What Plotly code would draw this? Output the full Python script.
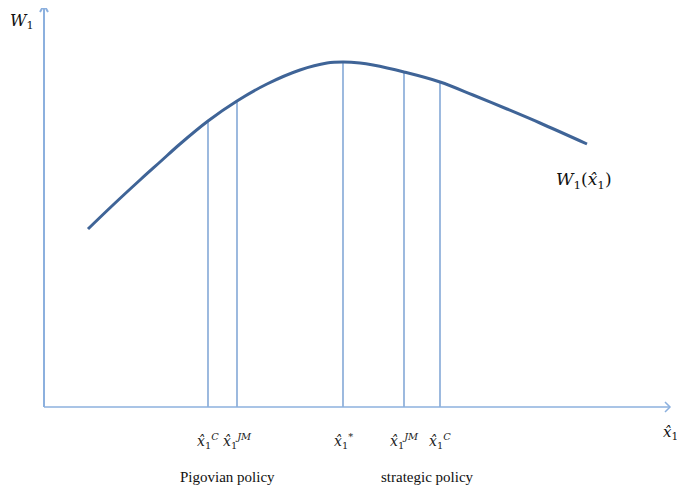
import numpy as np
import plotly.graph_objects as go

# ---- data ----
curve_x = [44, 69, 96, 116, 136, 164, 193, 223, 256, 283, 299, 316, 329, 360, 396, 429, 463, 496, 543]
curve_y = [178, 202, 227, 245, 263, 286, 306, 323, 337, 344, 345, 344, 342, 335, 325, 312, 298, 284, 263]

policy_x = [164, 193, 299, 360, 396]
policy_labels = ["<i>x̂</i><sub>1</sub><sup><i>C</i></sup>",
                 "<i>x̂</i><sub>1</sub><sup><i>JM</i></sup>",
                 "<i>x̂</i><sub>1</sub><sup>*</sup>",
                 "<i>x̂</i><sub>1</sub><sup><i>JM</i></sup>",
                 "<i>x̂</i><sub>1</sub><sup><i>C</i></sup>"]
group_labels = ["Pigovian policy", "strategic policy"]
group_x = [183, 383]

x_axis_end = 626
y_axis_end = 402

AXIS_COL = "#8CB0DE"
VLINE_COL = "#5B8BC9"
CURVE_COL = "#3F6497"
MATH_FONT = "DejaVu Serif"
TEXT_FONT = "Liberation Serif"

fig = go.Figure()

# vertical lines up to the curve
tops = np.interp(policy_x, curve_x, curve_y)
vx, vy = [], []
for x, t in zip(policy_x, tops):
    vx += [x, x, None]
    vy += [0, t, None]
fig.add_trace(go.Scatter(x=vx, y=vy, mode="lines",
                         line=dict(color=VLINE_COL, width=1.2), hoverinfo="skip"))

# welfare curve
fig.add_trace(go.Scatter(x=curve_x, y=curve_y, mode="lines",
                         line=dict(color=CURVE_COL, width=3, shape="spline", smoothing=1.0),
                         hoverinfo="skip"))

# axes with open arrowheads
ax_x = [0, x_axis_end, None, x_axis_end - 5, x_axis_end, x_axis_end - 5]
ax_y = [0, 0, None, 5, 0, -5]
fig.add_trace(go.Scatter(x=ax_x, y=ax_y, mode="lines",
                         line=dict(color=AXIS_COL, width=1.5), hoverinfo="skip"))
ay_x = [0, 0, None, -4, 0, 4]
ay_y = [0, y_axis_end, None, y_axis_end - 7, y_axis_end, y_axis_end - 7]
fig.add_trace(go.Scatter(x=ay_x, y=ay_y, mode="lines",
                         line=dict(color=AXIS_COL, width=2), hoverinfo="skip"))

ann = []
for x, lab in zip(policy_x, policy_labels):
    ann.append(dict(x=x, y=-34, text=lab, showarrow=False, xanchor="center",
                    font=dict(family=MATH_FONT, size=14, color="#222")))
for x, lab in zip(group_x, group_labels):
    ann.append(dict(x=x, y=-70, text=lab, showarrow=False, xanchor="center",
                    font=dict(family=TEXT_FONT, size=15, color="#111")))
ann.append(dict(x=-36, y=398, text="<i>W</i><sub>1</sub>", showarrow=False,
                xanchor="left", yanchor="top",
                font=dict(family=MATH_FONT, size=16, color="#111")))
ann.append(dict(x=510, y=227, text="<i>W</i><sub>1</sub>(<i>x̂</i><sub>1</sub>)", showarrow=False,
                xanchor="left", font=dict(family=MATH_FONT, size=17, color="#111")))
ann.append(dict(x=617, y=-25, text="<i>x̂</i><sub>1</sub>", showarrow=False, xanchor="left",
                font=dict(family=MATH_FONT, size=15, color="#111")))

# the page body adds an 8px margin, so the figure is 8px smaller and
# the axis ranges are shifted to keep the drawing where it belongs
fig.update_layout(
    width=677, height=477,
    margin=dict(l=0, r=0, t=0, b=0),
    plot_bgcolor="white", paper_bgcolor="white",
    showlegend=False,
    xaxis=dict(range=[-36, 641], visible=False, fixedrange=True),
    yaxis=dict(range=[-78, 399], visible=False, fixedrange=True),
    annotations=ann,
)

fig.write_html("out.html")
